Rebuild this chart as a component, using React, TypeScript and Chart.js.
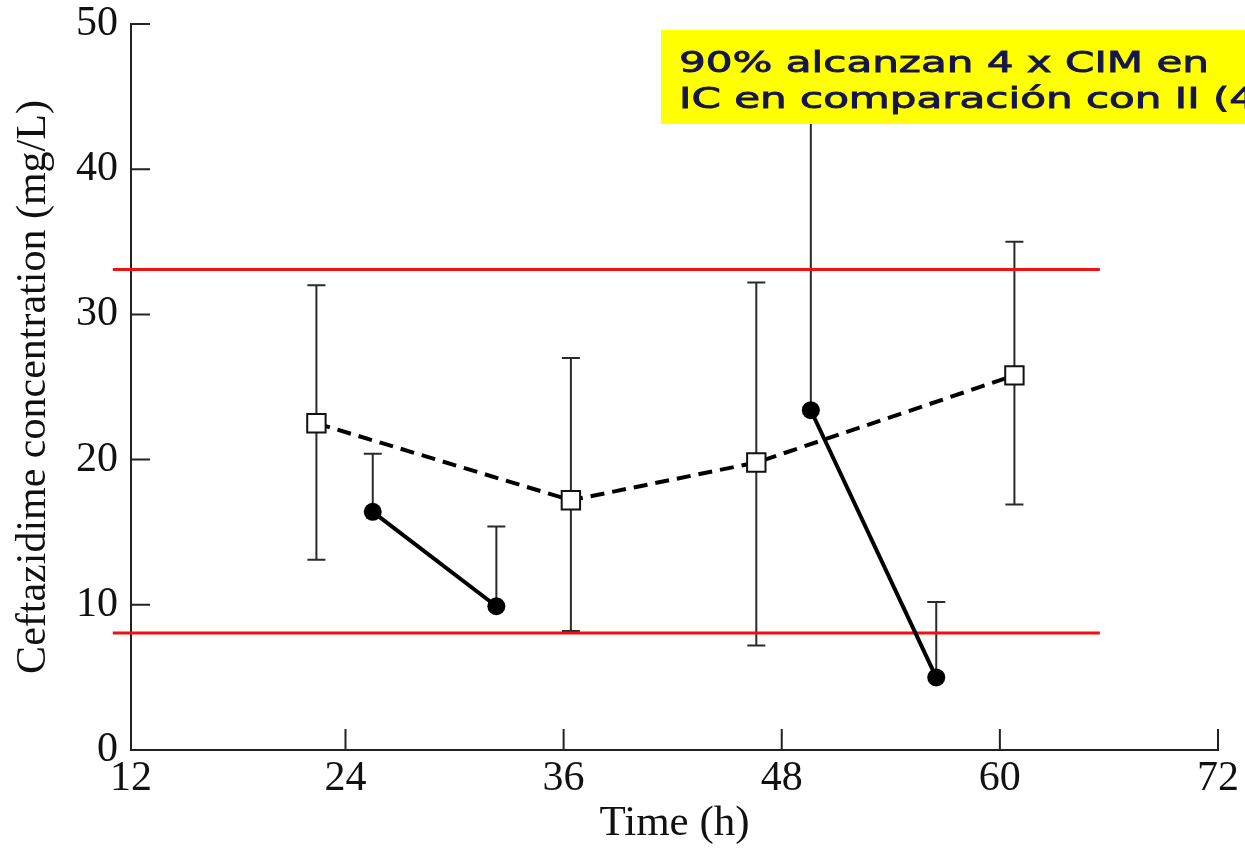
import React, { useEffect, useRef } from "react";
import { Chart, registerables } from "chart.js";

Chart.register(...registerables);

// ---- axis ticks ----
const xTickValues = [12, 24, 36, 48, 60, 72];
const xTickLabels = ["12", "24", "36", "48", "60", "72"];
const yTickValues = [0, 10, 20, 30, 40, 50];
const yTickLabels = ["0", "10", "20", "30", "40", "50"];
const xMin = 12.2;
const xMax = 72;
const yMin = 0;
const yMax = 50;

// ---- continuous infusion (open squares, dashed) ----
const ciTimes = [22.4, 36.4, 46.6, 60.8];
const ciMeans = [22.5, 17.2, 19.8, 25.8];
const ciLower = [13.1, 8.2, 7.2, 16.9];
const ciUpper = [32.0, 27.0, 32.2, 35.0];

// ---- intermittent infusion (filled circles, solid) ----
const iiTimesA = [25.5, 32.3];
const iiMeansA = [16.4, 9.9];
const iiUpperA = [20.4, 15.4];
const iiTimesB = [49.6, 56.5];
const iiMeansB = [23.4, 5.0];
const iiUpperB = [46.0, 10.2];

// ---- target lines ----
const targetLevels = [33.1, 8.05];
const targetStart = 11.2;
const targetEnd = 65.5;

// ---- texts ----
const xTitle = "Time (h)";
const yTitle = "Ceftazidime concentration (mg/L)";
const calloutLines = ["90% alcanzan 4 x CIM en", "IC en comparación con II (4"];

const SERIF = "'Liberation Serif', 'Times New Roman', serif";

const pts = (xs: number[], ys: number[]) => xs.map((x, i) => ({ x, y: ys[i] }));

const customPlugin = {
  id: "customDecor",
  beforeDatasetsDraw(chart: any) {
    const { ctx, scales } = chart;
    const x = scales.x;
    const y = scales.y;
    const cap = 9;
    ctx.save();
    ctx.strokeStyle = "#2a2a2a";
    ctx.lineWidth = 2;
    const drawBar = (t: number, lo: number | null, hi: number, mean: number) => {
      const px = x.getPixelForValue(t);
      const pHi = y.getPixelForValue(hi);
      const pLo = y.getPixelForValue(lo === null ? mean : lo);
      ctx.beginPath();
      ctx.moveTo(px, pLo);
      ctx.lineTo(px, pHi);
      ctx.moveTo(px - cap, pHi);
      ctx.lineTo(px + cap, pHi);
      if (lo !== null) {
        ctx.moveTo(px - cap, pLo);
        ctx.lineTo(px + cap, pLo);
      }
      ctx.stroke();
    };
    ciTimes.forEach((t, i) => drawBar(t, ciLower[i], ciUpper[i], ciMeans[i]));
    iiTimesA.forEach((t, i) => drawBar(t, null, iiUpperA[i], iiMeansA[i]));
    iiTimesB.forEach((t, i) => drawBar(t, null, iiUpperB[i], iiMeansB[i]));
    ctx.restore();
  },
  afterDraw(chart: any) {
    const { ctx, scales, chartArea } = chart;
    const x = scales.x;
    const y = scales.y;
    ctx.save();
    // inward tick marks
    ctx.strokeStyle = "#222";
    ctx.lineWidth = 2;
    ctx.beginPath();
    yTickValues.forEach((v) => {
      const py = y.getPixelForValue(v);
      ctx.moveTo(chartArea.left, py);
      ctx.lineTo(chartArea.left + 19, py);
    });
    xTickValues.forEach((v) => {
      const px = x.getPixelForValue(Math.max(v, xMin));
      ctx.moveTo(px, chartArea.bottom);
      ctx.lineTo(px, chartArea.bottom - 21);
    });
    ctx.stroke();

    // yellow callout
    const boxLeft = 661;
    const boxTop = 30;
    ctx.fillStyle = "#ffff00";
    ctx.fillRect(boxLeft, boxTop, chart.width - boxLeft + 10, 94);
    ctx.fillStyle = "#16164a";
    ctx.strokeStyle = "#16164a";
    ctx.lineWidth = 0.9;
    ctx.font = "29px 'DejaVu Sans', Verdana, sans-serif";
    ctx.textBaseline = "alphabetic";
    ctx.textAlign = "left";
    const w1 = ctx.measureText(calloutLines[0]).width;
    const sx = 530 / w1;
    calloutLines.forEach((line, i) => {
      ctx.save();
      ctx.translate(boxLeft + 18, boxTop + 42 + i * 36);
      ctx.scale(sx, 1);
      ctx.fillText(line, 0, 0);
      ctx.strokeText(line, 0, 0);
      ctx.restore();
    });
    ctx.restore();
  },
};

export default function App() {
  const ref = useRef<HTMLCanvasElement>(null);
  useEffect(() => {
    document.body.style.margin = "0";
    const canvas = ref.current!;
    const chart = new Chart(canvas, {
      type: "scatter",
      data: {
        datasets: [
          {
            label: "CI",
            data: pts(ciTimes, ciMeans),
            showLine: true,
            borderColor: "#000",
            borderWidth: 4,
            borderDash: [14, 8],
            pointStyle: "rect",
            pointRadius: 13,
            pointBorderWidth: 2,
            pointBorderColor: "#111",
            pointBackgroundColor: "#fff",
            backgroundColor: "#fff",
          },
          {
            label: "II a",
            data: pts(iiTimesA, iiMeansA),
            showLine: true,
            borderColor: "#000",
            borderWidth: 4,
            pointStyle: "circle",
            pointRadius: 9,
            pointBorderWidth: 0,
            pointBackgroundColor: "#000",
            backgroundColor: "#000",
          },
          {
            label: "II b",
            data: pts(iiTimesB, iiMeansB),
            showLine: true,
            borderColor: "#000",
            borderWidth: 4,
            pointStyle: "circle",
            pointRadius: 9,
            pointBorderWidth: 0,
            pointBackgroundColor: "#000",
            backgroundColor: "#000",
          },
          ...targetLevels.map((lvl, i) => ({
            label: "target " + i,
            data: [
              { x: targetStart, y: lvl },
              { x: targetEnd, y: lvl },
            ],
            showLine: true,
            borderColor: "#f01010",
            borderWidth: 3,
            pointRadius: 0,
            clip: false as any,
          })),
        ],
      },
      options: {
        animation: false,
        responsive: false,
        devicePixelRatio: 1,
        events: [],
        layout: { padding: { top: 24, right: 27, left: 0, bottom: 0 } },
        plugins: {
          legend: { display: false },
          tooltip: { enabled: false },
        },
        scales: {
          x: {
            type: "linear",
            min: xMin,
            max: xMax,
            afterBuildTicks: (s: any) => {
              s.ticks = xTickValues.map((v) => ({ value: Math.max(v, xMin) }));
            },
            afterFit: (s: any) => {
              s.height = 100;
            },
            ticks: {
              autoSkip: false,
              maxRotation: 0,
              padding: 4,
              color: "#111",
              font: { family: SERIF, size: 42 },
              callback: (_v: any, i: number) => xTickLabels[i],
            },
            grid: { display: false, drawTicks: false },
            border: { display: true, color: "#222", width: 2 },
            title: {
              display: true,
              text: xTitle,
              color: "#111",
              font: { family: SERIF, size: 43 },
              padding: { top: 0, bottom: 0 },
            },
          },
          y: {
            type: "linear",
            min: yMin,
            max: yMax,
            afterBuildTicks: (s: any) => {
              s.ticks = yTickValues.map((v) => ({ value: v }));
            },
            afterFit: (s: any) => {
              s.width = 131;
              s.paddingTop = 0;
              s.paddingBottom = 0;
            },
            ticks: {
              padding: 13,
              color: "#111",
              font: { family: SERIF, size: 42, lineHeight: 1 },
              callback: (_v: any, i: number) => yTickLabels[i],
            },
            grid: { display: false, drawTicks: false },
            border: { display: true, color: "#222", width: 2 },
            title: {
              display: true,
              text: yTitle,
              color: "#111",
              font: { family: SERIF, size: 42 },
              padding: { top: 9, bottom: 0 },
            },
          },
        },
      },
      plugins: [customPlugin],
    });
    return () => chart.destroy();
  }, []);
  return <canvas ref={ref} width={1245} height={850} style={{ display: "block" }} />;
}
